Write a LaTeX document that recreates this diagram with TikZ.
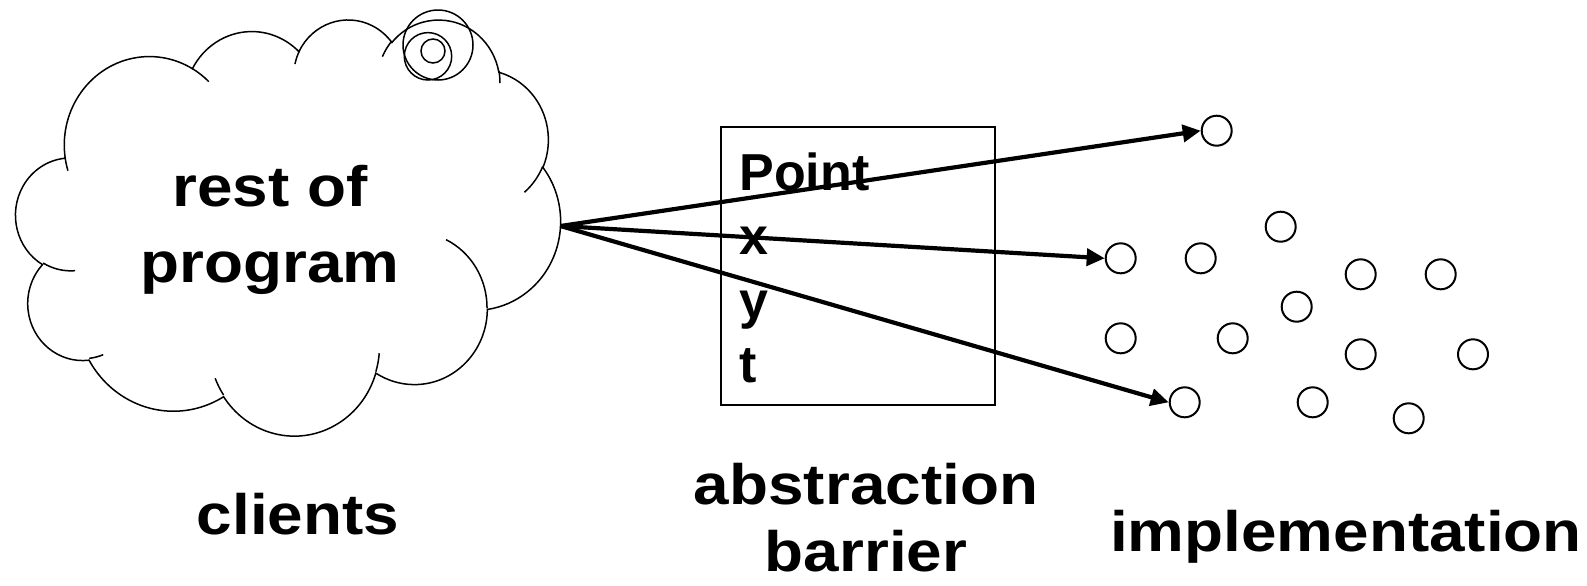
\documentclass[tikz,border=0pt]{standalone}
\usepackage{fontspec}
\setmainfont{Liberation Sans}
\usetikzlibrary{arrows.meta}
\tikzset{
  carc/.code n args={4}{%
    \pgfmathsetmacro\cldA{atan2((#1)*sin(#3),(#2)*cos(#3))}%
    \pgfmathsetmacro\cldB{atan2((#1)*sin((#3)+(#4)),(#2)*cos((#3)+(#4)))}%
    \pgfmathsetmacro\cldD{\cldB-\cldA}%
    \pgfmathsetmacro\cldD{\cldD+360*round(((#4)-\cldD)/360)}%
    \edef\cldtmp{\noexpand\pgfkeysalso{/tikz/start angle=\cldA,/tikz/delta angle=\cldD,/tikz/x radius=#1,/tikz/y radius=#2}}%
    \cldtmp},
  cloudline/.style={line width=0.75pt},
  dot/.style={circle, draw, line width=1pt, minimum size=15pt, inner sep=0pt},
  ptr/.style={line width=2.1pt, -{Triangle[length=9pt,width=8.5pt]}},
  biglbl/.style={font=\bfseries\fontsize{28.5}{34}\selectfont, inner sep=0pt, anchor=base},
  boxlbl/.style={font=\bfseries\fontsize{26}{32}\selectfont, inner sep=0pt, anchor=base west},
}
\newcommand\wideTxt[1]{\scalebox{1.12}[1]{#1}}
\begin{document}
\begin{tikzpicture}[x=0.5pt,y=-0.5pt]
\useasboundingbox (0,0) rectangle (1587,585);

% cloud (clients)
\begin{scope}[shift={(15.9,18.6)}, xscale=1.2604, yscale=0.963]
\draw[cloudline] (39.00,143.70)
  arc[carc={67.53}{91.90}{-190.4875}{123.7805}]
  arc[carc={53.33}{72.67}{-144.1024}{89.9452}]
  arc[carc={43.65}{59.45}{-145.8079}{99.7230}]
  arc[carc={48.57}{65.95}{-130.9861}{117.2417}]
  arc[carc={53.33}{72.73}{-78.7089}{109.0269}]
  arc[carc={67.75}{92.20}{-46.2673}{130.2690}]
  arc[carc={57.85}{78.67}{0.6250}{114.0333}]
  arc[carc={67.52}{92.15}{22.4516}{115.1726}]
  arc[carc={77.20}{105.43}{66.2426}{75.7110}]
  arc[carc={43.60}{59.18}{-274.9421}{146.7356}]
  arc[carc={43.45}{59.45}{-246.8285}{152.5189}]
  -- cycle;
\draw[cloudline]
  (46.93,261.77) arc[carc={43.45}{59.45}{86.742}{26.430}]
  (69.28,348.99) arc[carc={43.60}{59.18}{73.610}{11.447}]
  (164.78,390.90) arc[carc={67.52}{92.15}{137.624}{14.081}]
  (288.27,347.51) arc[carc={67.52}{92.15}{6.453}{15.998}]
  (341.29,229.54) arc[carc={57.85}{78.67}{-70.292}{70.917}]
  (417.98,153.54) arc[carc={53.33}{72.73}{30.318}{27.752}]
  (383.24,54.26) arc[carc={48.57}{65.95}{-13.744}{14.859}]
  (290.78,39.52) arc[carc={48.57}{65.95}{-149.181}{18.195}]
  (221.41,47.20) arc[carc={43.65}{59.45}{-163.494}{17.686}]
  (140.00,51.92) arc[carc={67.53}{91.90}{-66.707}{12.319}]
  (41.27,157.89) arc[carc={67.53}{91.90}{157.654}{11.858}];
\end{scope}
% thought-bubble circles of the cloud
\draw[cloudline] (438,45) circle[radius=35];
\draw[cloudline] (428,56.3) circle[radius=23.7];
\draw[cloudline] (433,51) circle[radius=12];

\node[biglbl] (rest1) at (270,206) {\wideTxt{rest of}};
\node[biglbl] (rest2) at (270,282) {\wideTxt{program}};

% abstraction barrier box
\node[draw, line width=0.7pt, minimum width=137pt, minimum height=139pt, inner sep=0pt] (box) at (858,266) {};
\node[boxlbl] (tPoint) at (739,190) {Point};
\node[boxlbl] (tx) at (739,254) {x};
\node[boxlbl] (ty) at (739,318) {y};
\node[boxlbl] (tt) at (739,382) {t};

% implementation objects
\node[dot] (c1) at (1216.7,130.7) {};
\node[dot] (c2) at (1120.7,258.3) {};
\node[dot] (c3) at (1200.7,258.3) {};
\node[dot] (c4) at (1280.7,226.7) {};
\node[dot] (c5) at (1360.7,274.3) {};
\node[dot] (c6) at (1440.7,274.3) {};
\node[dot] (c7) at (1296.7,306.7) {};
\node[dot] (c8) at (1120.7,338.3) {};
\node[dot] (c9) at (1232.7,338.3) {};
\node[dot] (c10) at (1360.7,354.3) {};
\node[dot] (c11) at (1473,354.3) {};
\node[dot] (c12) at (1184.7,402.3) {};
\node[dot] (c13) at (1312.7,402.3) {};
\node[dot] (c14) at (1408.7,418.3) {};

% connectors
\coordinate (src) at (560.5,226);
\draw[ptr] (src) -- (c1.west);
\draw[ptr] (src) -- (c2.west);
\draw[ptr] (src) -- (c12.west);

% bottom labels
\node[biglbl] (clients) at (298,534) {\wideTxt{clients}};
\node[biglbl] (abs1) at (866,504) {\wideTxt{abstraction}};
\node[biglbl] (abs2) at (866,571) {\wideTxt{barrier}};
\node[biglbl] (impl) at (1346,551) {\wideTxt{implementation}};
\end{tikzpicture}
\end{document}
